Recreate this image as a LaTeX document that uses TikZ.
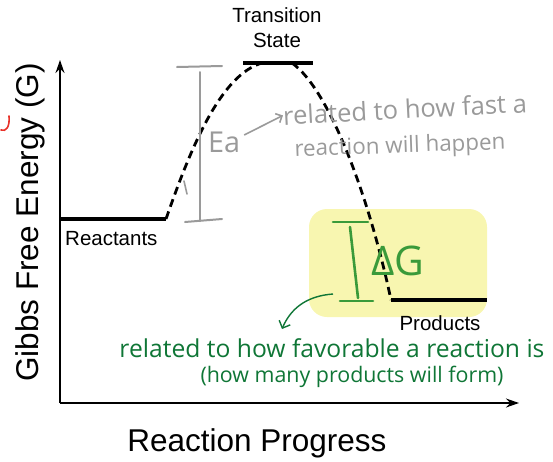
\documentclass[tikz,border=0pt]{standalone}
\usepackage{fontspec}
\setmainfont{Liberation Sans}
\newfontfamily\handfont{Open Sans}
\usetikzlibrary{arrows.meta, positioning}
\definecolor{pencil}{HTML}{9A9A9A}
\definecolor{marker}{HTML}{3A9A3A}
\definecolor{ink}{HTML}{0F7636}
\definecolor{highlight}{HTML}{F8F6B0}
\definecolor{redink}{HTML}{E8322A}
\newcommand{\scribble}[2]{\resizebox{#1}{!}{\handfont #2}}

\begin{document}
\begin{tikzpicture}[x=1pt, y=-1pt,
    axis/.style={line width=1.4pt, -{Stealth[length=13pt, width=9pt]}},
    level/.style={line width=4pt},
    route/.style={line width=2.8pt, dash pattern=on 8pt off 5pt},
    label/.style={font=\fontsize{20.5}{24}\selectfont, align=center, inner sep=0pt},
    title/.style={font=\fontsize{31.5}{36}\selectfont, inner sep=0pt},
    note/.style={inner sep=0pt}]
  \useasboundingbox (0,0) rectangle (553,461);
  % highlighter behind the free energy change
  \fill[highlight, rounded corners=18pt] (309,209) rectangle (487,317);

  % axes
  \coordinate (origin) at (60,403);
  \coordinate (ytip) at (60,60);
  \coordinate (xtip) at (519,403);
  \draw[axis] (origin) -- (ytip);
  \draw[axis] (origin) -- (xtip);
  \node[title, rotate=90, anchor=base] (ylab) at (38,222.5) {Gibbs Free Energy (G)};
  \node[title, anchor=base] (xlab) at (257,451) {Reaction Progress};

  % energy levels
  \coordinate (r1) at (60,219);  \coordinate (r2) at (166,219);
  \coordinate (t1) at (243,62.5); \coordinate (t2) at (313,62.5);
  \coordinate (p1) at (391,300); \coordinate (p2) at (487,300);
  \draw[level] (r1) -- (r2);
  \draw[level] (t1) -- (t2);
  \draw[level] (p1) -- (p2);
  \node[label, anchor=base west] (react) at (65,245) {Reactants};
  \node[label, anchor=base] (ts) at (277,22) {Transition};
  \node[label, anchor=base] (ts2) at (277,47) {State};
  \node[label, anchor=base] (prod) at (440,330) {Products};

  % reaction path
  \draw[route] (r2) .. controls (190,150) and (220,75) .. (262,63);
  \draw[route] (292,63) .. controls (330,90) and (370,200) .. (p1);

  % activation energy (pencil)
  \coordinate (ea1) at (177,67);  \coordinate (ea2) at (222,66);
  \coordinate (ea3) at (200,72);  \coordinate (ea4) at (200,221);
  \coordinate (ea5) at (185,222); \coordinate (ea6) at (222,219);
  \draw[pencil, line width=2pt, line cap=round] (ea1) -- (ea2);
  \draw[pencil, line width=2pt, line cap=round] (ea3) -- (ea4);
  \draw[pencil, line width=2pt, line cap=round] (ea5) -- (ea6);
  \draw[pencil, line width=1.6pt, line cap=round] (184,181) -- (187,194);
  \node[note, pencil] (ea) at (224,142) {\scribble{32pt}{Ea}};
  \node[note, pencil, rotate=3] (fast) at (405,109) {\scribble{244pt}{related to how fast a}};
  \node[note, pencil, rotate=2] (fast2) at (400,147) {\scribble{211pt}{reaction will happen}};
  \draw[pencil, line width=1.6pt, -{Straight Barb[length=5pt]}] (ea.east) ++(4,-7) -- (fast.west);

  % free energy change (marker)
  \coordinate (dg1) at (333,222); \coordinate (dg2) at (368,222);
  \coordinate (dg3) at (350,227); \coordinate (dg4) at (358,298);
  \coordinate (dg5) at (340,301); \coordinate (dg6) at (373,301);
  \draw[marker, line width=2.6pt, line cap=round] (dg1) -- (dg2);
  \draw[marker, line width=2.6pt, line cap=round] (dg3) -- (dg4);
  \draw[marker, line width=2.6pt, line cap=round] (dg5) -- (dg6);
  \node[note, marker] (dg) at (398,261) {\scribble{53pt}{ΔG}};
  \node[note, ink] (fav) at (332,348) {\scribble{425pt}{related to how favorable a reaction is}};
  \node[note, ink] (fav2) at (352,377) {\scribble{303pt}{(how many products will form)}};
  \coordinate (tail) at (333,294);
  \coordinate (head) at (282,329);
  \draw[ink, line width=1.4pt, -{Straight Barb[length=6pt]}] (tail) .. controls (305,296) and (290,310) .. (head);

  % red stroke at the edge
  \draw[redink, line width=1.6pt, line cap=round] (9,116) .. controls (10,127) and (6,132) .. (1,130);
\end{tikzpicture}
\end{document}
